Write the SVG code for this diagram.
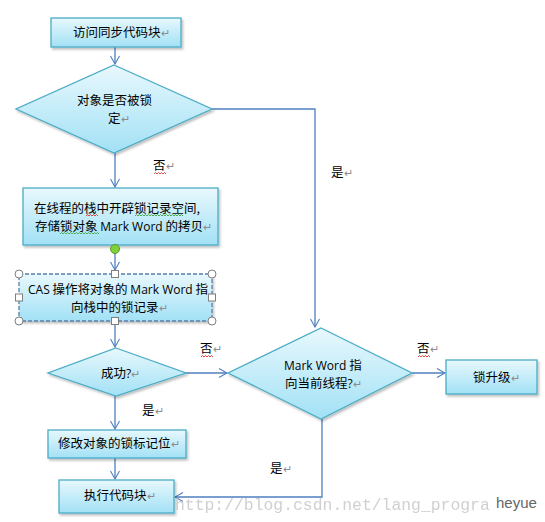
<svg xmlns="http://www.w3.org/2000/svg" width="545" height="522" viewBox="0 0 545 522">
<defs>
<linearGradient id="g" x1="0" y1="0" x2="0" y2="1">
<stop offset="0" stop-color="#e8f8fd"/>
<stop offset="1" stop-color="#a2e1f5"/>
</linearGradient>
<filter id="sh" x="-10%" y="-10%" width="130%" height="140%">
<feDropShadow dx="1.5" dy="2" stdDeviation="1.2" flood-color="#000" flood-opacity="0.25"/>
</filter>
<marker id="ar" viewBox="0 0 10 10" refX="9" refY="5" markerWidth="10" markerHeight="10" markerUnits="userSpaceOnUse" orient="auto">
<path d="M1,0.5 L9,5 L1,9.5" fill="none" stroke="#4f7fbf" stroke-width="1.1"/>
</marker>
<style>
.n{fill:url(#g);stroke:#4bacc6;stroke-width:1.3;filter:url(#sh)}
.c{fill:none;stroke:#4f7fbf;stroke-width:1.3}
.t{font-family:"Noto Sans CJK SC","Noto Sans",sans-serif;font-size:12.5px;fill:#000}
.l{font-family:"Open Sans","Noto Sans",sans-serif;font-size:12px}
.p{fill:#8c8c8c;font-size:11px}
.h{fill:#fff;stroke:#7f7f7f;stroke-width:1}
.sq{fill:none;stroke-width:0.9}
</style>
</defs>

<g id="connectors">
<path class="c" d="M115,47 V64" marker-end="url(#ar)"/>
<path class="c" d="M212,109 H315 V327" marker-end="url(#ar)"/>
<path class="c" d="M115,153 V187" marker-end="url(#ar)"/>
<path class="c" d="M115,249 V270" marker-end="url(#ar)"/>
<path class="c" d="M115,321 V347" marker-end="url(#ar)"/>
<path class="c" d="M186,373 H227" marker-end="url(#ar)"/>
<path class="c" d="M115,396 V429" marker-end="url(#ar)"/>
<path class="c" d="M115,458 V479" marker-end="url(#ar)"/>
<path class="c" d="M322,419 V497 H175" marker-end="url(#ar)"/>
<path class="c" d="M412,373 H445" marker-end="url(#ar)"/>
</g>

<g id="n1">
<rect class="n" x="51" y="18" width="130" height="29"/>
<text class="t" x="73" y="37">访问同步代码块<tspan class="p">↵</tspan></text>
</g>

<g id="d1">
<polygon class="n" points="114,65 212,109 114,153 16,109"/>
<text class="t" x="77" y="105">对象是否被锁</text>
<text class="t" x="108" y="123">定<tspan class="p">↵</tspan></text>
</g>

<g id="n2">
<rect class="n" x="23" y="188" width="195" height="57"/>
<text class="t" x="34" y="213">在线程的栈中开辟锁记录空间,</text>
<text class="t" x="35" y="231">存储锁对象 <tspan class="l">Mark Word</tspan> 的拷贝<tspan class="p">↵</tspan></text>
<path class="sq" stroke="#e03030" d="M86,216 l1.5,-1.5 l1.5,1.5 l1.5,-1.5 l1.5,1.5 l1.5,-1.5 l1.5,1.5 l1.5,-1.5 l1.5,1.5"/>
<path class="sq" stroke="#3aa53a" d="M135,216 l1.5,-1.5 l1.5,1.5 l1.5,-1.5 l1.5,1.5 l1.5,-1.5 l1.5,1.5 l1.5,-1.5 l1.5,1.5 l1.5,-1.5 l1.5,1.5 l1.5,-1.5 l1.5,1.5 l1.5,-1.5 l1.5,1.5 l1.5,-1.5 l1.5,1.5 l1.5,-1.5 l1.5,1.5 l1.5,-1.5 l1.5,1.5 l1.5,-1.5 l1.5,1.5 l1.5,-1.5 l1.5,1.5 l1.5,-1.5 l1.5,1.5 l1.5,-1.5 l1.5,1.5 l1.5,-1.5 l1.5,1.5 l1.5,-1.5 l1.5,1.5"/>
<path class="sq" stroke="#3aa53a" d="M60,234 l1.5,-1.5 l1.5,1.5 l1.5,-1.5 l1.5,1.5 l1.5,-1.5 l1.5,1.5 l1.5,-1.5 l1.5,1.5 l1.5,-1.5 l1.5,1.5 l1.5,-1.5 l1.5,1.5 l1.5,-1.5 l1.5,1.5 l1.5,-1.5 l1.5,1.5 l1.5,-1.5 l1.5,1.5 l1.5,-1.5 l1.5,1.5 l1.5,-1.5 l1.5,1.5 l1.5,-1.5 l1.5,1.5 l1.5,-1.5 l1.5,1.5"/>
</g>

<g id="n3">
<rect class="n" x="19" y="274" width="193" height="47" stroke-dasharray="4,2" style="stroke:#5a7fa8"/>
<text class="t" x="28" y="294"><tspan class="l">CAS</tspan> 操作将对象的 <tspan class="l">Mark Word</tspan> 指</text>
<text class="t" x="71" y="312">向栈中的锁记录<tspan class="p">↵</tspan></text>
<circle cx="115" cy="249" r="4.5" fill="#7fd13b" stroke="#5a9a2a" stroke-width="1"/>
<circle class="h" cx="19" cy="274" r="4"/>
<circle class="h" cx="212" cy="274" r="4"/>
<circle class="h" cx="19" cy="321" r="4"/>
<circle class="h" cx="212" cy="321" r="4"/>
<rect class="h" x="111.5" y="270.5" width="7" height="7"/>
<rect class="h" x="111.5" y="317.5" width="7" height="7"/>
<rect class="h" x="15.5" y="294" width="7" height="7"/>
<rect class="h" x="208.5" y="294" width="7" height="7"/>
</g>

<g id="d3">
<polygon class="n" points="116,348 186,373 116,396 48,373"/>
<text class="t" x="101" y="378">成功<tspan class="l">?</tspan><tspan class="p">↵</tspan></text>
</g>

<g id="d2">
<polygon class="n" points="321,328 412,373 321,419 228,373"/>
<text class="t" x="284" y="370"><tspan class="l">Mark Word</tspan> 指</text>
<text class="t" x="285" y="388">向当前线程<tspan class="l">?</tspan><tspan class="p">↵</tspan></text>
</g>

<g id="n4">
<rect class="n" x="446" y="360" width="91" height="34"/>
<text class="t" x="473" y="382">锁升级<tspan class="p">↵</tspan></text>
</g>

<g id="n5">
<rect class="n" x="48" y="430" width="138" height="28"/>
<text class="t" x="58" y="448">修改对象的锁标记位<tspan class="p">↵</tspan></text>
</g>

<g id="n6">
<rect class="n" x="59" y="480" width="115" height="33"/>
<text class="t" x="84" y="500">执行代码块<tspan class="p">↵</tspan></text>
</g>

<g id="labels">
<text class="t" x="153" y="170">否<tspan class="p">↵</tspan></text>
<path class="sq" stroke="#e03030" d="M154,174 l1.5,-1.5 l1.5,1.5 l1.5,-1.5 l1.5,1.5 l1.5,-1.5 l1.5,1.5 l1.5,-1.5 l1.5,1.5"/>
<text class="t" x="331" y="177">是<tspan class="p">↵</tspan></text>
<text class="t" x="200" y="353">否<tspan class="p">↵</tspan></text>
<path class="sq" stroke="#e03030" d="M201,357 l1.5,-1.5 l1.5,1.5 l1.5,-1.5 l1.5,1.5 l1.5,-1.5 l1.5,1.5 l1.5,-1.5 l1.5,1.5"/>
<text class="t" x="142" y="415">是<tspan class="p">↵</tspan></text>
<text class="t" x="417" y="353">否<tspan class="p">↵</tspan></text>
<path class="sq" stroke="#e03030" d="M418,357 l1.5,-1.5 l1.5,1.5 l1.5,-1.5 l1.5,1.5 l1.5,-1.5 l1.5,1.5 l1.5,-1.5 l1.5,1.5"/>
<text class="t" x="270" y="473">是<tspan class="p">↵</tspan></text>
</g>

<g id="watermark">
<text x="175" y="510" font-family="'Liberation Mono',monospace" font-size="16.4" fill="#c8c8c8" opacity="0.85">http://blog.csdn.net/lang_progra</text>
<text x="496" y="508" font-family="'Liberation Sans',sans-serif" font-size="15" fill="#666">heyue</text>
</g>
</svg>
